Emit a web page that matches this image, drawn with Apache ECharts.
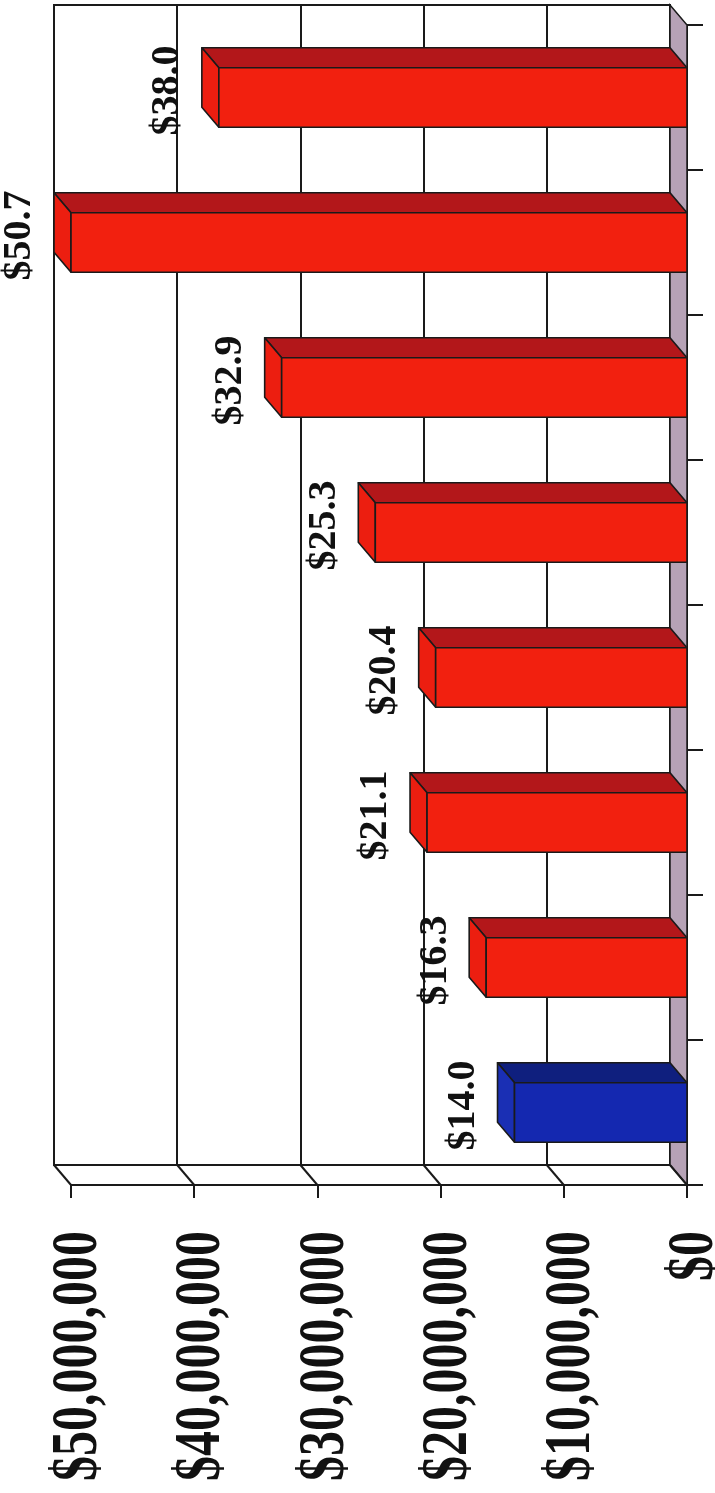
<!DOCTYPE html>
<html>
<head>
<meta charset="utf-8">
<style>
  html, body { margin: 0; padding: 0; background: #fff; }
  #chart { width: 715px; height: 1493px; }
</style>
<script src="https://cdn.jsdelivr.net/npm/echarts@6/dist/echarts.min.js"></script>
</head>
<body>
<div id="chart"></div>
<script>
// Funding per period, in dollars
const periods = ['P1', 'P2', 'P3', 'P4', 'P5', 'P6', 'P7', 'P8'];
const amounts = [14.0e6, 16.3e6, 21.1e6, 20.4e6, 25.3e6, 32.9e6, 50.7e6, 38.0e6];
const valueTicks = [0, 10e6, 20e6, 30e6, 40e6, 50e6];

const AXIS_MIN = 0;
const AXIS_MAX = 50e6;
const AXIS_STEP = 10e6;

// Face colours per bar: [front, top, end]
const faceColors = [
  ['#1428b0', '#0f1f7e', '#1a2fb4'],
  ['#f2200f', '#b3171a', '#ec1e10'],
  ['#f2200f', '#b3171a', '#ec1e10'],
  ['#f2200f', '#b3171a', '#ec1e10'],
  ['#f2200f', '#b3171a', '#ec1e10'],
  ['#f2200f', '#b3171a', '#ec1e10'],
  ['#f2200f', '#b3171a', '#ec1e10'],
  ['#f2200f', '#b3171a', '#ec1e10']
];

// Front plane of the plot and the depth offset to the back wall
const FRONT = { left: 71, right: 28, top: 25, bottom: 308 };
const DX = -17, DY = -20;
const BACK = { left: FRONT.left + DX, right: FRONT.right - DX, top: FRONT.top + DY, bottom: FRONT.bottom - DY };

const EDGE = '#1a1a1a';
const FONT = "'Liberation Serif', 'Times New Roman', serif";

const chart = echarts.init(document.getElementById('chart'), null, { renderer: 'canvas' });

function fmtDollars(v) {
  return '$' + Math.round(v).toLocaleString('en-US');
}

// Floor strip along the zero line, receding to the back wall
function renderFloor(params, api) {
  const cs = params.coordSys;
  const x0 = api.coord([0, 0])[0];
  const yTop = cs.y, yBot = cs.y + cs.height;
  return {
    type: 'polygon',
    shape: { points: [[x0, yBot], [x0, yTop], [x0 + DX, yTop + DY], [x0 + DX, yBot + DY]] },
    style: { fill: '#b6a2b6', stroke: EDGE, lineWidth: 1.5 }
  };
}

// Side wall gridline from the back wall to the front edge, plus the
// tall, upright-reading value label under each tick
function renderSide(params, api) {
  const cs = params.coordSys;
  const v = api.value(0);
  const x = api.coord([v, 0])[0];
  const yBot = cs.y + cs.height;
  return {
    type: 'group',
    children: [
      {
        type: 'line',
        shape: { x1: x + DX, y1: yBot + DY, x2: x, y2: yBot },
        style: { stroke: EDGE, lineWidth: 2 }
      },
      {
        type: 'text',
        x: x + 8,
        y: yBot + 46,
        rotation: Math.PI / 2,
        scaleY: 1.33,
        style: {
          text: fmtDollars(v),
          font: 'bold 50px ' + FONT,
          fill: '#111',
          align: 'right',
          verticalAlign: 'middle'
        }
      }
    ]
  };
}

// 3D bar: front face, top face, end cap and value label
function renderBar(params, api) {
  const v = api.value(0);
  const idx = api.value(1);
  const shown = Math.min(Math.max(v, AXIS_MIN), AXIS_MAX);
  const p0 = api.coord([0, idx]);
  const p1 = api.coord([shown, idx]);
  const band = api.size([0, 1])[1];
  const h = band * 0.41;
  const top = p0[1] - h / 2, bot = p0[1] + h / 2;
  const xl = p1[0], xr = p0[0];
  const c = faceColors[params.dataIndex];
  const edge = { stroke: EDGE, lineWidth: 1.6, lineJoin: 'round' };
  return {
    type: 'group',
    children: [
      {
        type: 'polygon',
        shape: { points: [[xl, top], [xr, top], [xr + DX, top + DY], [xl + DX, top + DY]] },
        style: Object.assign({ fill: c[1] }, edge)
      },
      {
        type: 'polygon',
        shape: { points: [[xl, top], [xl + DX, top + DY], [xl + DX, bot + DY], [xl, bot]] },
        style: Object.assign({ fill: c[2] }, edge)
      },
      {
        type: 'rect',
        shape: { x: xl, y: top, width: xr - xl, height: h },
        style: Object.assign({ fill: c[0] }, edge)
      },
      {
        type: 'text',
        x: xl + DX - 34,
        y: p0[1] - 7,
        rotation: Math.PI / 2,
        style: {
          text: '$' + (v / 1e6).toFixed(1),
          font: 'bold 40px ' + FONT,
          fill: '#111',
          align: 'center',
          verticalAlign: 'middle'
        }
      }
    ]
  };
}

const option = {
  backgroundColor: '#fff',
  animation: false,
  grid: [
    // back wall
    { left: BACK.left, right: BACK.right, top: BACK.top, bottom: BACK.bottom,
      show: true, backgroundColor: '#fff', borderColor: EDGE, borderWidth: 2 },
    // front plane
    { left: FRONT.left, right: FRONT.right, top: FRONT.top, bottom: FRONT.bottom }
  ],
  xAxis: [
    {
      gridIndex: 0, type: 'value', inverse: true,
      min: AXIS_MIN, max: AXIS_MAX, interval: AXIS_STEP,
      axisLine: { show: false }, axisTick: { show: false }, axisLabel: { show: false },
      splitLine: { show: true, lineStyle: { color: EDGE, width: 2 } }
    },
    {
      gridIndex: 1, type: 'value', inverse: true, position: 'bottom',
      min: AXIS_MIN, max: AXIS_MAX, interval: AXIS_STEP,
      splitLine: { show: false },
      axisLine: { show: true, lineStyle: { color: EDGE, width: 2 } },
      axisTick: { show: true, length: 13, lineStyle: { color: EDGE, width: 2 } },
      axisLabel: { show: false }
    }
  ],
  yAxis: [
    {
      gridIndex: 0, type: 'category', data: periods,
      axisLine: { show: false }, axisTick: { show: false }, axisLabel: { show: false },
      splitLine: { show: false }
    },
    {
      gridIndex: 1, type: 'category', data: periods, position: 'right',
      axisLine: { show: true, lineStyle: { color: EDGE, width: 2 } },
      axisTick: { show: true, length: 16, lineStyle: { color: EDGE, width: 2 } },
      axisLabel: { show: false },
      splitLine: { show: false }
    }
  ],
  series: [
    {
      type: 'custom', xAxisIndex: 1, yAxisIndex: 1, z: 1,
      renderItem: renderFloor, data: [[0, 0]], silent: true
    },
    {
      type: 'custom', xAxisIndex: 1, yAxisIndex: 1, z: 1, clip: false,
      renderItem: renderSide, data: valueTicks.map(v => [v, 0]), silent: true
    },
    {
      type: 'custom', xAxisIndex: 1, yAxisIndex: 1, z: 3,
      renderItem: renderBar, clip: false,
      encode: { x: 0, y: 1 },
      data: amounts.map((v, i) => [v, i])
    }
  ]
};

chart.setOption(option);
</script>
</body>
</html>
